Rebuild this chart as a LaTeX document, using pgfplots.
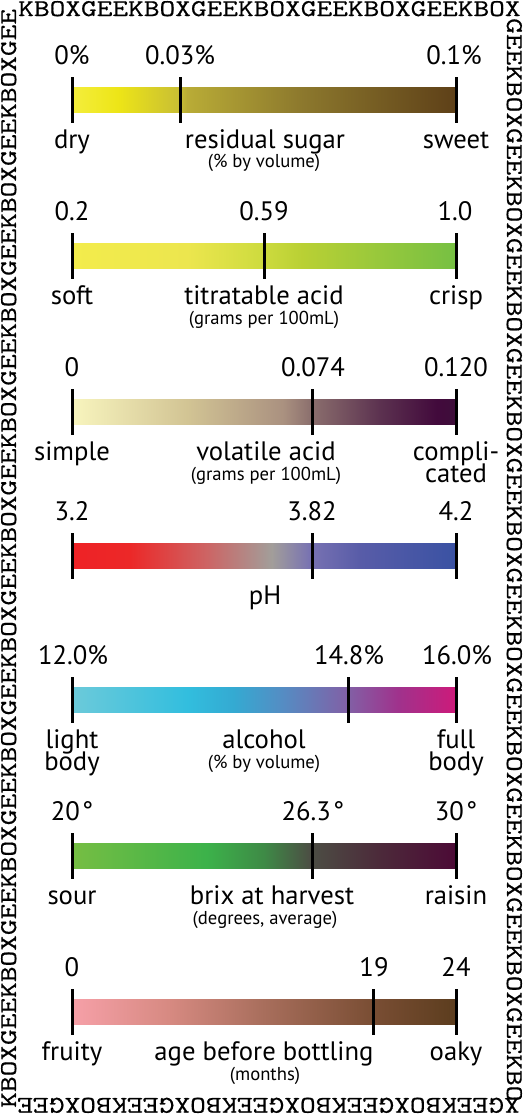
\documentclass[border=0pt]{standalone}
\usepackage{pgfplots}
\pgfplotsset{compat=1.18}
\usepackage{fontspec}
\setmainfont{PT Sans}
\newfontfamily\geekfont[FakeStretch=1.27, FakeBold=0.7]{Latin Modern Mono}
\newcommand\labfont{\fontsize{20}{22}\selectfont}
\newcommand\subfont{\fontsize{14}{15}\selectfont}
\newcommand\gkfont{\geekfont\fontsize{18}{19}\selectfont}

% residual sugar
\definecolor{a0}{RGB}{244,238,60}\definecolor{a1}{RGB}{237,229,23}\definecolor{a2}{RGB}{200,190,52}
\definecolor{a3}{RGB}{185,172,54}\definecolor{a4}{RGB}{140,120,45}\definecolor{a5}{RGB}{94,64,24}
\pgfdeclarehorizontalshading{sugar}{100bp}{color(0bp)=(a0); color(25bp)=(a0); color(31bp)=(a1); color(39bp)=(a2); color(40bp)=(a3); color(55bp)=(a4); color(75bp)=(a5); color(100bp)=(a5)}
% titratable acid
\definecolor{b0}{RGB}{243,236,76}\definecolor{b1}{RGB}{236,230,78}\definecolor{b2}{RGB}{205,219,62}
\definecolor{b3}{RGB}{185,208,52}\definecolor{b4}{RGB}{118,192,67}
\pgfdeclarehorizontalshading{titr}{100bp}{color(0bp)=(b0); color(25bp)=(b0); color(40bp)=(b1); color(50bp)=(b2); color(55bp)=(b3); color(75bp)=(b4); color(100bp)=(b4)}
% volatile acid
\definecolor{c0}{RGB}{248,245,190}\definecolor{c1}{RGB}{210,196,148}\definecolor{c2}{RGB}{170,145,128}
\definecolor{c3}{RGB}{140,112,110}\definecolor{c4}{RGB}{92,50,80}\definecolor{c5}{RGB}{66,10,60}\definecolor{c6}{RGB}{62,14,58}
\pgfdeclarehorizontalshading{vola}{100bp}{color(0bp)=(c0); color(25bp)=(c0); color(40bp)=(c1); color(52.5bp)=(c2); color(56bp)=(c3); color(65bp)=(c4); color(72.5bp)=(c5); color(75bp)=(c6); color(100bp)=(c6)}
% pH
\definecolor{d0}{RGB}{238,34,38}\definecolor{d1}{RGB}{236,40,40}\definecolor{d2}{RGB}{205,100,100}
\definecolor{d3}{RGB}{162,158,154}\definecolor{d4}{RGB}{120,114,178}\definecolor{d5}{RGB}{88,92,168}\definecolor{d6}{RGB}{58,82,163}
\pgfdeclarehorizontalshading{ph}{100bp}{color(0bp)=(d0); color(25bp)=(d0); color(32.5bp)=(d1); color(42.5bp)=(d2); color(51bp)=(d3); color(56bp)=(d4); color(62.5bp)=(d5); color(75bp)=(d6); color(100bp)=(d6)}
% alcohol
\definecolor{e0}{RGB}{108,202,218}\definecolor{e1}{RGB}{50,190,222}\definecolor{e2}{RGB}{52,170,210}
\definecolor{e3}{RGB}{85,140,195}\definecolor{e4}{RGB}{130,95,165}\definecolor{e5}{RGB}{160,50,140}\definecolor{e6}{RGB}{205,26,122}
\pgfdeclarehorizontalshading{alc}{100bp}{color(0bp)=(e0); color(25bp)=(e0); color(40bp)=(e1); color(46bp)=(e2); color(52.5bp)=(e3); color(61bp)=(e4); color(67.5bp)=(e5); color(75bp)=(e6); color(100bp)=(e6)}
% brix
\definecolor{f0}{RGB}{118,190,67}\definecolor{f1}{RGB}{60,178,74}\definecolor{f2}{RGB}{62,138,70}
\definecolor{f3}{RGB}{76,78,68}\definecolor{f4}{RGB}{76,42,58}\definecolor{f5}{RGB}{76,10,54}
\pgfdeclarehorizontalshading{brix}{100bp}{color(0bp)=(f0); color(25bp)=(f0); color(42.5bp)=(f1); color(50bp)=(f2); color(56bp)=(f3); color(65bp)=(f4); color(75bp)=(f5); color(100bp)=(f5)}
% age
\definecolor{g0}{RGB}{246,160,168}\definecolor{g1}{RGB}{215,138,130}\definecolor{g2}{RGB}{168,110,92}
\definecolor{g3}{RGB}{122,78,52}\definecolor{g4}{RGB}{92,61,30}
\pgfdeclarehorizontalshading{age}{100bp}{color(0bp)=(g0); color(25bp)=(g0); color(37.5bp)=(g1); color(50bp)=(g2); color(64bp)=(g3); color(75bp)=(g4); color(100bp)=(g4)}

\pgfplotsset{
  tk/.style={black, line width=2.25pt, unbounded coords=jump, mark=none},
  bar/.style={draw=none, mark=none},
}

\begin{document}
\begin{tikzpicture}[
  lab/.style={anchor=base, inner sep=0pt, font=\labfont},
  sub/.style={anchor=base, inner sep=0pt, font=\subfont},
  gk/.style={anchor=base west, inner sep=0pt, font=\gkfont},
]
\begin{axis}[
  scale only axis, width=392.25pt, height=835.5pt,
  xmin=0, xmax=523, ymin=0, ymax=1114, y dir=reverse,
  hide axis, clip=false,
]
% ---- residual sugar (center 100)
\addplot[bar, shading=sugar] coordinates {(72,87.5) (456,87.5) (456,112.5) (72,112.5)};
\addplot[tk] coordinates {(72,77) (72,123) (72,nan) (180,77) (180,123) (180,nan) (456,77) (456,123)};
\node[lab] at (72,64) {0\%};
\node[lab] at (180,64) {0.03\%};
\node[lab] at (454,64) {0.1\%};
\node[lab] at (72,148) {dry};
\node[lab] at (265,148) {residual sugar};
\node[lab] at (456,148) {sweet};
\node[sub] at (264,167) {(\% by volume)};
% ---- titratable acid (center 256)
\addplot[bar, shading=titr] coordinates {(72,243.5) (456,243.5) (456,268.5) (72,268.5)};
\addplot[tk] coordinates {(72,233) (72,279) (72,nan) (264,233) (264,279) (264,nan) (456,233) (456,279)};
\node[lab] at (72,220) {0.2};
\node[lab] at (264,220) {0.59};
\node[lab] at (455,220) {1.0};
\node[lab] at (72,304) {soft};
\node[lab] at (264,304) {titratable acid};
\node[lab] at (456,304) {crisp};
\node[sub] at (264,324) {(grams per 100mL)};
% ---- volatile acid (center 412)
\addplot[bar, shading=vola] coordinates {(72,399.5) (456,399.5) (456,424.5) (72,424.5)};
\addplot[tk] coordinates {(72,389) (72,435) (72,nan) (312,389) (312,435) (312,nan) (456,389) (456,435)};
\node[lab] at (72,376) {0};
\node[lab] at (313,376) {0.074};
\node[lab] at (456,376) {0.120};
\node[lab] at (72,460) {simple};
\node[lab] at (266,460) {volatile acid};
\node[lab] at (456,460) {compli-};
\node[lab] at (456,482) {cated};
\node[sub] at (266,480) {(grams per 100mL)};
% ---- pH (center 556)
\addplot[bar, shading=ph] coordinates {(72,543.5) (456,543.5) (456,568.5) (72,568.5)};
\addplot[tk] coordinates {(72,533) (72,579) (72,nan) (312,533) (312,579) (312,nan) (456,533) (456,579)};
\node[lab] at (72,520) {3.2};
\node[lab] at (312,520) {3.82};
\node[lab] at (456,520) {4.2};
\node[lab] at (265,604) {pH};
% ---- alcohol (center 700)
\addplot[bar, shading=alc] coordinates {(72,687.5) (456,687.5) (456,712.5) (72,712.5)};
\addplot[tk] coordinates {(72,677) (72,723) (72,nan) (348,677) (348,723) (348,nan) (456,677) (456,723)};
\node[lab] at (73,664) {12.0\%};
\node[lab] at (349,664) {14.8\%};
\node[lab] at (457,664) {16.0\%};
\node[lab] at (72,748) {light};
\node[lab] at (72,770) {body};
\node[lab] at (264,748) {alcohol};
\node[lab] at (456,748) {full};
\node[lab] at (456,770) {body};
\node[sub] at (264,768) {(\% by volume)};
% ---- brix (center 856)
\addplot[bar, shading=brix] coordinates {(72,843.5) (456,843.5) (456,868.5) (72,868.5)};
\addplot[tk] coordinates {(72,833) (72,879) (72,nan) (312,833) (312,879) (312,nan) (456,833) (456,879)};
\node[lab] at (72,820) {20\kern1.5pt°};
\node[lab] at (313,820) {26.3\kern1.5pt°};
\node[lab] at (456,820) {30\kern1.5pt°};
\node[lab] at (72,904) {sour};
\node[lab] at (272,904) {brix at harvest};
\node[lab] at (456,904) {raisin};
\node[sub] at (265,924) {(degrees, average)};
% ---- age (center 1012)
\addplot[bar, shading=age] coordinates {(72,999.5) (456,999.5) (456,1024.5) (72,1024.5)};
\addplot[tk] coordinates {(72,989) (72,1035) (72,nan) (373,989) (373,1035) (373,nan) (456,989) (456,1035)};
\node[lab] at (72,976) {0};
\node[lab] at (374,976) {19};
\node[lab] at (456,976) {24};
\node[lab] at (72,1060) {fruity};
\node[lab] at (264,1060) {age before bottling};
\node[lab] at (456,1060) {oaky};
\node[sub] at (265,1080) {(months)};
% ---- GEEKBOX border
\node[gk] at (18,16) {KBOXGEEKBOXGEEKBOXGEEKBOXGEEKBOX};
\node[gk, rotate=-90] at (507,18) {GEEKBOXGEEKBOXGEEKBOXGEEKBOXGEEKBOXGEEKBOXGEEKBOXGEEKBOXGEEKBOXGEEKBO};
\node[gk, rotate=180] at (520,1098) {XGEEKBOXGEEKBOXGEEKBOXGEEKBOXGEE};
\node[gk, rotate=90] at (16,1108) {KBOXGEEKBOXGEEKBOXGEEKBOXGEEKBOXGEEKBOXGEEKBOXGEEKBOXGEEKBOXGEEKBOXGEE};
\end{axis}
\pgfresetboundingbox
\path (current axis.south west) rectangle (current axis.north east);
\end{tikzpicture}
\end{document}
